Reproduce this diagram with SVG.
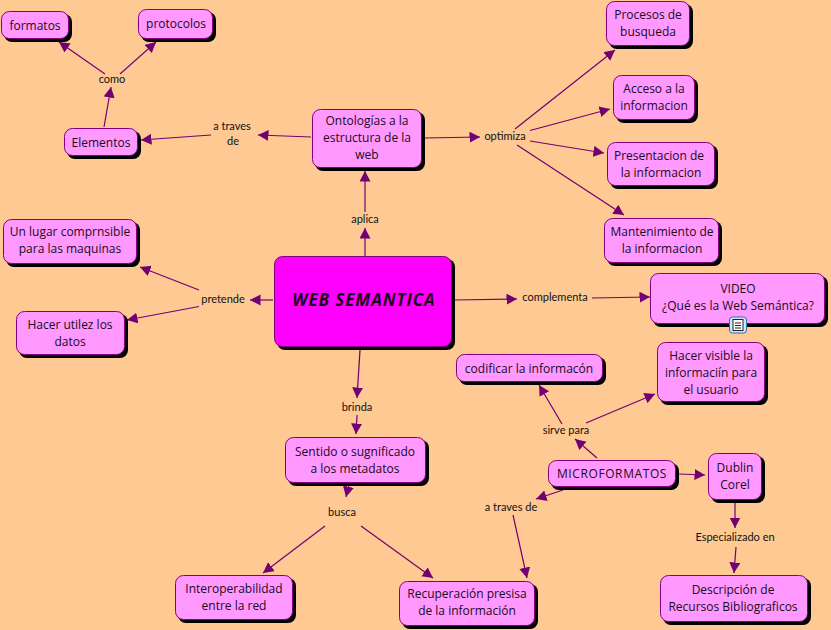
<svg xmlns="http://www.w3.org/2000/svg" width="831" height="630" viewBox="0 0 831 630">
<defs>
<marker id="a" markerUnits="userSpaceOnUse" markerWidth="11" markerHeight="12" refX="10.500" refY="5.500" orient="auto"><path d="M0 0L10.500 5.500L0 11Z" fill="#720072"/></marker>
</defs>
<style>
.n rect.s{fill:#000}
.n rect.b{fill:#ff99ff;stroke:#800080;stroke-width:1}
.n text{font-family:"Open Sans","Liberation Sans",sans-serif;font-size:12px;fill:#1a0a1a;text-anchor:middle}
.l{font-family:"Lato","Liberation Sans",sans-serif;font-size:11px;fill:#111;text-anchor:middle}
#c line{stroke:#720072;stroke-width:1.2;marker-end:url(#a)}
</style>
<rect width="831" height="630" fill="#ffc993"/>
<g id="c">
<line x1="105" y1="74" x2="59" y2="42"/>
<line x1="120" y1="74" x2="156" y2="42"/>
<line x1="104" y1="127" x2="111" y2="87"/>
<line x1="211" y1="135" x2="141" y2="140"/>
<line x1="311" y1="137" x2="258" y2="135"/>
<line x1="365" y1="212" x2="365" y2="171"/>
<line x1="365" y1="256" x2="365" y2="228"/>
<line x1="424" y1="138" x2="480" y2="137"/>
<line x1="515" y1="129" x2="615" y2="50"/>
<line x1="530" y1="130.500" x2="610" y2="109"/>
<line x1="530" y1="141" x2="604" y2="153"/>
<line x1="517" y1="145" x2="624" y2="215"/>
<line x1="273" y1="300" x2="250" y2="300"/>
<line x1="199" y1="290" x2="140" y2="267"/>
<line x1="199" y1="306.500" x2="127" y2="320"/>
<line x1="454" y1="300" x2="517" y2="299"/>
<line x1="592" y1="298" x2="650" y2="297"/>
<line x1="360" y1="350" x2="357" y2="398"/>
<line x1="357" y1="415" x2="356" y2="434"/>
<line x1="349" y1="484" x2="346" y2="497"/>
<line x1="325" y1="526" x2="263" y2="573"/>
<line x1="361" y1="526" x2="433" y2="578"/>
<line x1="597" y1="458" x2="575" y2="439"/>
<line x1="562" y1="424" x2="539" y2="385"/>
<line x1="586" y1="423" x2="655" y2="394"/>
<line x1="563" y1="490" x2="536" y2="499"/>
<line x1="513" y1="515" x2="527" y2="578"/>
<line x1="679" y1="474" x2="705" y2="475"/>
<line x1="735" y1="500" x2="735" y2="528"/>
<line x1="736" y1="547" x2="734" y2="573"/>
</g>
<g id="labels">
<text class="l" x="112" y="83">como</text>
<text class="l" x="232" y="130">a traves</text>
<text class="l" x="233" y="145">de</text>
<text class="l" x="505" y="140">optimiza</text>
<text class="l" x="365" y="223">aplica</text>
<text class="l" x="223" y="303">pretende</text>
<text class="l" x="555" y="301">complementa</text>
<text class="l" x="357" y="411">brinda</text>
<text class="l" x="342" y="516">busca</text>
<text class="l" x="566" y="434">sirve para</text>
<text class="l" x="511" y="511">a traves de</text>
<text class="l" x="735" y="541">Especializado en</text>
</g>
<g id="formatos" class="n"><rect class="s" x="4" y="14" width="68" height="28" rx="8"/><rect class="b" x="1.500" y="11.500" width="67" height="27" rx="8"/><text x="35" y="30">formatos</text></g>
<g id="protocolos" class="n"><rect class="s" x="141" y="12" width="75" height="30" rx="8"/><rect class="b" x="138.500" y="9.500" width="74" height="29" rx="8"/><text x="176" y="28">protocolos</text></g>
<g id="elementos" class="n"><rect class="s" x="67" y="131" width="74" height="28" rx="8"/><rect class="b" x="64.500" y="128.500" width="73" height="27" rx="8"/><text x="101" y="147">Elementos</text></g>
<g id="ontologias" class="n"><rect class="s" x="315" y="112" width="110" height="59" rx="8"/><rect class="b" x="312.500" y="109.500" width="109" height="58" rx="8"/><text x="367" y="125">Ontologías a la</text><text x="367" y="142">estructura de la</text><text x="367" y="159">web</text></g>
<g id="procesos" class="n"><rect class="s" x="609" y="4" width="84" height="45" rx="8"/><rect class="b" x="606.500" y="1.500" width="83" height="44" rx="8"/><text x="648" y="19">Procesos de</text><text x="648" y="36">busqueda</text></g>
<g id="acceso" class="n"><rect class="s" x="616" y="78" width="82" height="45" rx="8"/><rect class="b" x="613.500" y="75.500" width="81" height="44" rx="8"/><text x="654" y="93">Acceso a la</text><text x="654" y="110">informacion</text></g>
<g id="presentacion" class="n"><rect class="s" x="610" y="145" width="108" height="44" rx="8"/><rect class="b" x="607.500" y="142.500" width="107" height="43" rx="8"/><text x="659" y="160">Presentacion de</text><text x="661" y="177">la informacion</text></g>
<g id="mantenimiento" class="n"><rect class="s" x="607" y="221" width="115" height="45" rx="8"/><rect class="b" x="604.500" y="218.500" width="114" height="44" rx="8"/><text x="662" y="236">Mantenimiento de</text><text x="662" y="253">la informacion</text></g>
<g id="web" class="n"><rect class="s" x="277" y="259" width="178" height="91" rx="8"/><rect x="274.500" y="256.500" width="177" height="90" rx="8" fill="#ff00ff" stroke="#800080"/><text x="364" y="306" style="font-size:17px;font-weight:700;font-style:italic;letter-spacing:.9px">WEB SEMANTICA</text></g>
<g id="video" class="n"><rect class="s" x="653" y="276" width="175" height="51" rx="8"/><rect class="b" x="650.500" y="273.500" width="174" height="50" rx="8"/><text x="738" y="293">VIDEO</text><text x="738" y="310">¿Qué es la Web Semántica?</text><rect x="729.500" y="317" width="17" height="16" rx="3" fill="#cfe6fb" stroke="#2f6fb0"/><rect x="733" y="319.500" width="10" height="11" fill="#fff" stroke="#222"/><path d="M735 323h6M735 325.500h6M735 328h6" stroke="#222" stroke-width="1"/></g>
<g id="lugar" class="n"><rect class="s" x="6" y="222" width="134" height="45" rx="8"/><rect class="b" x="3.500" y="219.500" width="133" height="44" rx="8"/><text x="70" y="236">Un lugar comprnsible</text><text x="70" y="253">para las maquinas</text></g>
<g id="utilez" class="n"><rect class="s" x="19" y="314" width="109" height="44" rx="8"/><rect class="b" x="16.500" y="311.500" width="108" height="43" rx="8"/><text x="70" y="329">Hacer utilez los</text><text x="70" y="346">datos</text></g>
<g id="codificar" class="n"><rect class="s" x="459" y="357" width="147" height="28" rx="8"/><rect class="b" x="456.500" y="354.500" width="146" height="27" rx="8"/><text x="529" y="373">codificar la informacón</text></g>
<g id="visible" class="n"><rect class="s" x="660" y="345" width="108" height="60" rx="8"/><rect class="b" x="657.500" y="342.500" width="107" height="59" rx="8"/><text x="711" y="360">Hacer visible la</text><text x="711" y="377">informaciín para</text><text x="711" y="394">el usuario</text></g>
<g id="microformatos" class="n"><rect class="s" x="551" y="463" width="128" height="27" rx="8"/><rect class="b" x="548.500" y="460.500" width="127" height="26" rx="8"/><text x="612" y="478" style="letter-spacing:.6px">MICROFORMATOS</text></g>
<g id="dublin" class="n"><rect class="s" x="711" y="456" width="54" height="47" rx="8"/><rect class="b" x="708.500" y="453.500" width="53" height="46" rx="8"/><text x="735" y="472">Dublin</text><text x="735" y="489">Corel</text></g>
<g id="sentido" class="n"><rect class="s" x="288" y="440" width="141" height="46" rx="8"/><rect class="b" x="285.500" y="437.500" width="140" height="45" rx="8"/><text x="355" y="456">Sentido o sugnificado</text><text x="355" y="473">a los metadatos</text></g>
<g id="interop" class="n"><rect class="s" x="178" y="578" width="118" height="45" rx="8"/><rect class="b" x="175.500" y="575.500" width="117" height="44" rx="8"/><text x="234" y="593">Interoperabilidad</text><text x="234" y="610">entre la red</text></g>
<g id="recuperacion" class="n"><rect class="s" x="402" y="584" width="136" height="45" rx="8"/><rect class="b" x="399.500" y="581.500" width="135" height="44" rx="8"/><text x="467" y="598">Recuperación presisa</text><text x="467" y="615">de la información</text></g>
<g id="descripcion" class="n"><rect class="s" x="663" y="578" width="148" height="47" rx="8"/><rect class="b" x="660.500" y="575.500" width="147" height="46" rx="8"/><text x="733" y="594">Descripción de</text><text x="733" y="611">Recursos Bibliograficos</text></g>
</svg>
